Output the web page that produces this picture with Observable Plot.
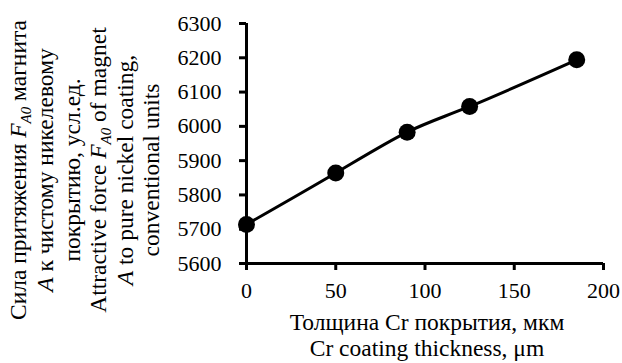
<!DOCTYPE html>
<html><head><meta charset="utf-8">
<script src="https://cdn.jsdelivr.net/npm/d3@7"></script>
<script src="https://cdn.jsdelivr.net/npm/@observablehq/plot@0.6"></script>
<style>body{margin:0;background:#fff}</style>
</head><body><div id="chart"></div>
<script>
const thickness = [0, 50, 90, 125, 185];
const force = [5714, 5864, 5983, 6058, 6194];
const xTicks = [0, 50, 100, 150, 200];
const yTicks = [5600, 5700, 5800, 5900, 6000, 6100, 6200, 6300];
const xLabelLines = ["Толщина Cr покрытия, мкм", "Cr coating thickness, μm"];
// segments: [text, style] where style: "" normal, "i" italic, "sub" italic subscript
const yLabelLines = [
  [["Сила притяжения ", ""], ["F", "i"], ["A0", "sub"], [" магнита", ""]],
  [["A", "i"], [" к чистому никелевому", ""]],
  [["покрытию, усл.ед.", ""]],
  [["Attractive force ", ""], ["F", "i"], ["A0", "sub"], [" of magnet", ""]],
  [["A", "i"], [" to pure nickel coating,", ""]],
  [["conventional units", ""]]
];

const data = thickness.map((t, i) => ({t, f: force[i]}));
const FONT = "Liberation Serif";
const FS = 22;     // tick labels
const FT = 23.5;   // axis titles

const plot = Plot.plot({
  width: 622, height: 363,
  marginLeft: 246, marginRight: 19, marginTop: 23, marginBottom: 100,
  style: {fontFamily: FONT, fontSize: FS + "px", color: "#000", background: "#fff", overflow: "visible"},
  x: {domain: [0, 200]},
  y: {domain: [5600, 6300]},
  marks: [
    Plot.axisX({ticks: xTicks, tickSize: 7, tickPadding: 12, strokeWidth: 3, label: null, fontFamily: FONT, fontSize: FS, tickFormat: d => String(d)}),
    Plot.axisY({ticks: yTicks, tickSize: 7, tickPadding: 18, strokeWidth: 3, label: null, fontFamily: FONT, fontSize: FS, tickFormat: d => String(d)}),
    Plot.ruleX([0], {strokeWidth: 3}),
    Plot.ruleY([5600], {strokeWidth: 3}),
    Plot.line(data, {x: "t", y: "f", curve: "natural", strokeWidth: 3, stroke: "#000"}),
    Plot.dot(data, {x: "t", y: "f", r: 8.5, fill: "#000", stroke: "none"})
  ]
});
document.getElementById("chart").appendChild(plot);

const svg = d3.select(plot);
const xl = svg.append("g").attr("font-family", FONT).attr("font-size", FT)
  .attr("text-anchor", "middle").attr("fill", "#000");
xLabelLines.forEach((s, i) => xl.append("text").attr("x", 427).attr("y", 330 + i * 26).text(s));

const yBase = [26, 53, 80, 106, 133, 159];
const yl = svg.append("g").attr("font-family", FONT).attr("font-size", FT)
  .attr("text-anchor", "middle").attr("fill", "#000");
yLabelLines.forEach((segs, i) => {
  const t = yl.append("text").attr("transform", `translate(${yBase[i]},170) rotate(-90)`);
  let shifted = false;
  segs.forEach(([s, st]) => {
    const ts = t.append("tspan").text(s);
    if (st === "i") ts.attr("font-style", "italic");
    if (st === "sub") { ts.attr("font-style", "italic").attr("font-size", 15).attr("dy", 5); shifted = true; }
    else if (shifted) { ts.attr("dy", -5); shifted = false; }
  });
});
</script>
</body></html>
